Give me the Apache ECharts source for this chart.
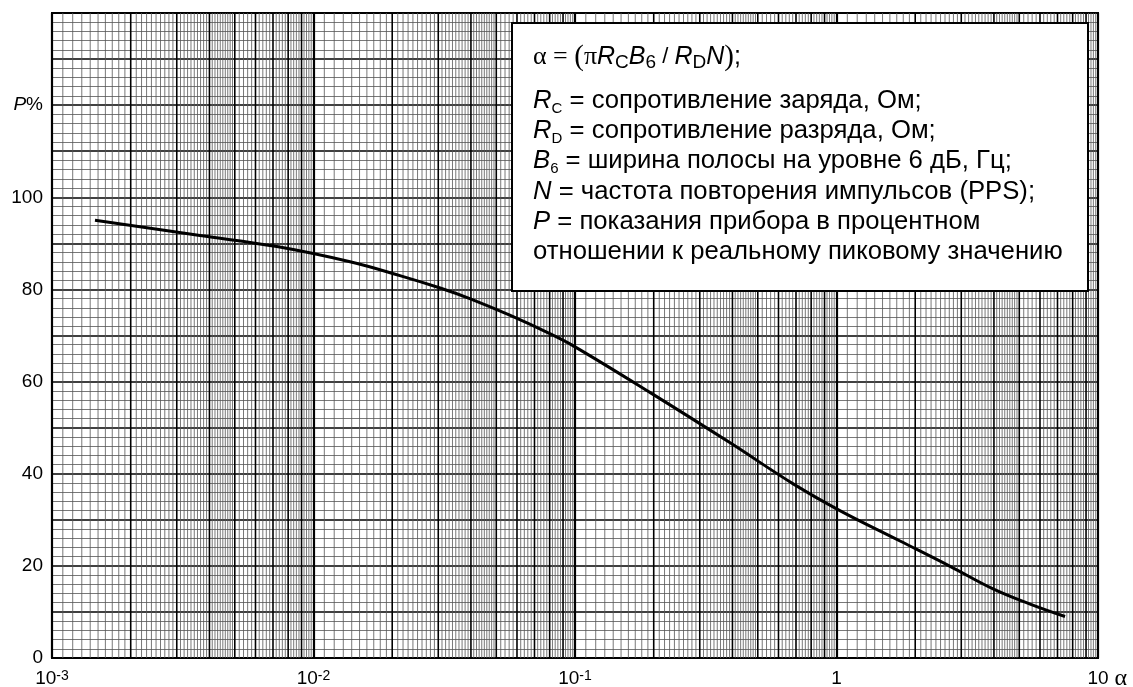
<!DOCTYPE html>
<html lang="ru">
<head>
    <meta charset="UTF-8">
    <title>P% от α</title>
    <script src="https://cdn.jsdelivr.net/npm/echarts@6/dist/echarts.min.js"></script>
</head>
<style>
    html, body { margin: 0; padding: 0; background: #fff; }
    #main { width: 1133px; height: 687px; }
</style>
<body>
<div id="main"></div>
<script>
    // кривая P% = f(α)
    var alphaVals = [0.00146, 0.00368, 0.00724, 0.0138, 0.0214, 0.0305, 0.0396, 0.0563, 0.0801, 0.0982,
                     0.194, 0.392, 0.683, 1.03, 1.75, 2.72, 3.97, 5.5, 7.48];
    var pVals = [95, 91.7, 89.3, 86.0, 83.0, 80.3, 78.0, 74.4, 70.4, 67.8,
                 57.6, 46.7, 37.8, 32.0, 25.4, 19.9, 15.0, 11.7, 9.0];

    var xDecades = [0.001, 0.01, 0.1, 1];
    var xTickLabels = {'-3': '10{sup|-3}', '-2': '10{sup|-2}', '-1': '10{sup|-1}', '0': '1', '1': '10'};
    var yTickLabels = {0: '0', 20: '20', 40: '40', 60: '60', 80: '80', 100: '100', 120: '{i|P}%'};

    var SANS = 'Liberation Sans, Arial, sans-serif';
    var SERIF = 'Liberation Serif, Times New Roman, serif';
    var Y_MAX = 140;

    // вертикальные линии логарифмической бумаги: целые множители и мелкие деления
    var boldX = [], fineX = [];
    xDecades.forEach(function (d) {
        for (var m = 2; m <= 9; m++) {
            boldX.push(d * m);
        }
        [[1, 2, 0.1], [2, 5, 0.1], [5, 10, 0.2]].forEach(function (r) {
            var n = Math.round((r[1] - r[0]) / r[2]);
            for (var k = 1; k < n; k++) {
                var m = r[0] + k * r[2];
                if (Math.abs(m - Math.round(m)) < 1e-6) continue;
                fineX.push(d * m);
            }
        });
    });

    function verticals(xs) {
        var out = [];
        xs.forEach(function (x) {
            out.push([x, 0], [x, Y_MAX], [x, '-']);
        });
        return out;
    }

    var curveData = alphaVals.map(function (a, i) { return [a, pVals[i]]; });

    var myChart = echarts.init(document.getElementById('main'));

    var FS = 25.7;
    var rich = {
        i: {fontFamily: SANS, fontStyle: 'italic', fontSize: FS, lineHeight: 30, color: '#000'},
        n: {fontFamily: SANS, fontSize: FS, lineHeight: 30, color: '#000'},
        // нижние индексы: смещаем вниз через padding
        s: {fontFamily: SANS, fontSize: 15, lineHeight: 15, verticalAlign: 'top', padding: [15, 0, 0, 0], color: '#000'},
        f: {fontFamily: SANS, fontSize: 25, lineHeight: 30, color: '#000'},
        fsl: {fontFamily: SANS, fontSize: 22, lineHeight: 30, color: '#000'},
        fi: {fontFamily: SANS, fontStyle: 'italic', fontSize: 25, lineHeight: 30, color: '#000'},
        fs: {fontFamily: SANS, fontSize: 19, lineHeight: 19, verticalAlign: 'top', padding: [11, 0, 0, 0], color: '#000'},
        ga: {fontFamily: SERIF, fontSize: 26, lineHeight: 30, color: '#000'},
        gp: {fontFamily: SERIF, fontSize: 29, lineHeight: 30, color: '#000'}
    };

    var legendLines = [
        '{ga|α = }{gp|(}{ga|π}{fi|R}{fs|C}{fi|B}{fs|6}{fsl| / }{fi|R}{fs|D}{fi|N}{gp|)}{f|;}',
        '{i|R}{s|C}{n| = сопротивление заряда, Ом;}',
        '{i|R}{s|D}{n| = сопротивление разряда, Ом;}',
        '{i|B}{s|6}{n| = ширина полосы на уровне 6 дБ, Гц;}',
        '{i|N}{n| = частота повторения импульсов (PPS);}',
        '{i|P}{n| = показания прибора в процентном}',
        '{n|отношении к реальному пиковому значению}'
    ];
    var legendY = [57, 101, 131, 161, 192, 222, 252];

    var graphics = [{
        type: 'rect', z: 100,
        shape: {x: 512, y: 23, width: 576, height: 268},
        style: {fill: '#fff', stroke: '#000', lineWidth: 2}
    }];
    legendLines.forEach(function (t, i) {
        graphics.push({
            type: 'text', z: 101, x: 533, y: legendY[i],
            style: {text: t, rich: rich, verticalAlign: 'middle', align: 'left'}
        });
    });

    var option = {
        animation: false,
        backgroundColor: '#fff',
        grid: {
            left: 52, right: 35, top: 13, bottom: 29, outerBoundsMode: 'none',
            show: true, borderColor: '#000', borderWidth: 2
        },
        xAxis: {
            type: 'log', logBase: 10, min: 0.001, max: 10,
            name: 'α', nameLocation: 'end', nameGap: 14,
            nameTextStyle: {fontFamily: SERIF, fontSize: 24, color: '#000', verticalAlign: 'top', padding: [9, 0, 0, 0]},
            axisLine: {lineStyle: {color: '#000', width: 2}},
            axisTick: {show: false},
            axisLabel: {
                color: '#000', fontFamily: SANS, fontSize: 19, margin: 11,
                formatter: function (v) {
                    var e = Math.round(Math.log10(v));
                    return xTickLabels[e] || '';
                },
                rich: {sup: {fontFamily: SANS, fontSize: 14, lineHeight: 14, verticalAlign: 'top', color: '#000'}}
            },
            splitLine: {show: true, lineStyle: {color: '#000', width: 2.2}}
        },
        yAxis: {
            type: 'value', min: 0, max: Y_MAX, interval: 10,
            axisLine: {show: true, lineStyle: {color: '#000', width: 2}},
            axisTick: {show: false},
            axisLabel: {
                color: '#000', fontFamily: SANS, fontSize: 19, margin: 9,
                formatter: function (v) { return yTickLabels[v] || ''; },
                rich: {i: {fontFamily: SANS, fontStyle: 'italic', fontSize: 19, color: '#000'}}
            },
            splitLine: {show: true, lineStyle: {color: '#000', width: 1.6}},
            minorTick: {show: false, splitNumber: 5},
            minorSplitLine: {show: true, lineStyle: {color: '#555', width: 0.8}}
        },
        series: [
            {
                type: 'line', data: verticals(fineX), silent: true, z: 1, showSymbol: false,
                connectNulls: false, lineStyle: {color: '#555', width: 0.8}
            },
            {
                type: 'line', data: verticals(boldX), silent: true, z: 1, showSymbol: false,
                connectNulls: false, lineStyle: {color: '#000', width: 1.6}
            },
            {
                type: 'line', data: curveData, smooth: 0.4, showSymbol: false, z: 5, silent: true,
                lineStyle: {color: '#000', width: 3}
            }
        ],
        graphic: graphics
    };

    myChart.setOption(option);
</script>
</body>
</html>
